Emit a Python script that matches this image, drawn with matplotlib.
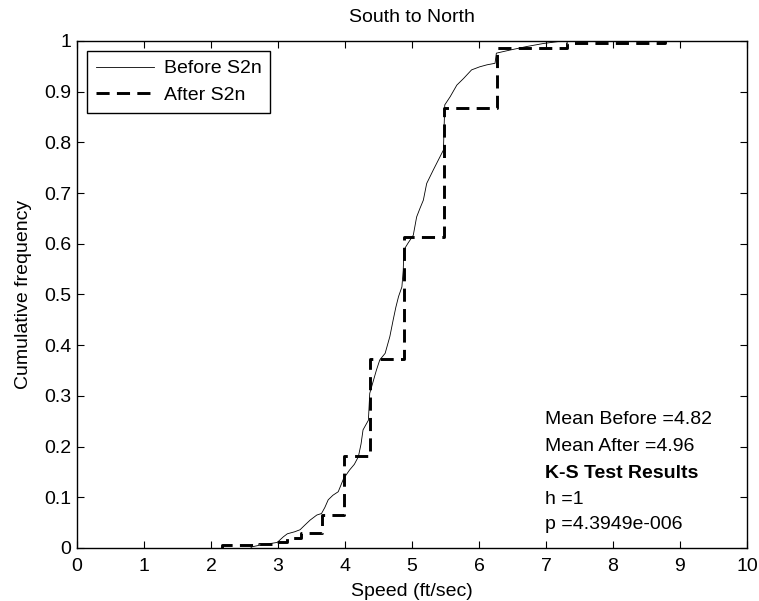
import numpy as np
import matplotlib
matplotlib.use("Agg")
import matplotlib.pyplot as plt

plt.rcParams['font.family'] = ['Liberation Sans', 'DejaVu Sans']

# empirical CDF, before S2n (speed in ft/sec, cumulative frequency)
before_x = [2.60, 2.71, 2.85, 2.99, 3.08, 3.14, 3.25, 3.33, 3.40, 3.48,
            3.58, 3.65, 3.70, 3.75, 3.82, 3.90, 3.98, 4.07, 4.14, 4.20,
            4.24, 4.27, 4.35, 4.37, 4.42, 4.47, 4.52, 4.60, 4.67, 4.72,
            4.76, 4.80, 4.85, 4.87, 4.88, 4.94, 5.02, 5.07, 5.12, 5.17,
            5.22, 5.32, 5.42, 5.47, 5.48, 5.49, 5.57, 5.67, 5.77, 5.89,
            6.01, 6.12, 6.24, 6.26, 6.46, 6.71, 6.96, 7.25]
before_y = [0.002, 0.005, 0.008, 0.011, 0.022, 0.028, 0.032, 0.036, 0.045, 0.055,
            0.065, 0.068, 0.080, 0.095, 0.104, 0.111, 0.137, 0.154, 0.165, 0.180,
            0.205, 0.233, 0.252, 0.305, 0.328, 0.351, 0.371, 0.384, 0.417, 0.450,
            0.475, 0.496, 0.515, 0.548, 0.588, 0.601, 0.617, 0.653, 0.670, 0.686,
            0.719, 0.746, 0.772, 0.785, 0.830, 0.874, 0.890, 0.913, 0.926, 0.943,
            0.949, 0.953, 0.956, 0.976, 0.982, 0.989, 0.995, 1.0]

# empirical CDF, after S2n
after_x = [2.17, 2.71, 2.99, 3.14, 3.35, 3.65, 3.99, 4.38, 4.88, 5.48, 6.27, 7.32, 8.78]
after_y = [0.005, 0.008, 0.011, 0.020, 0.029, 0.065, 0.181, 0.372, 0.614, 0.868, 0.987, 0.997, 1.0]

mean_before = 4.82
mean_after = 4.96
ks_h = 1
ks_p = '4.3949e-006'

fig = plt.figure(figsize=(7.59, 6.01), dpi=100)
ax = fig.add_axes([0.1014, 0.0882, 0.8827, 0.8436])

ax.plot([before_x[0]] + before_x, [0] + before_y,
        color='k', lw=0.6, label='Before S2n')
ax.step([after_x[0]] + after_x, [0] + after_y, where='post',
        color='k', lw=2.1, linestyle=(0, (4.5, 2.5)), label='After S2n')

ax.set_xlim(0, 10)
ax.set_ylim(0, 1)
ax.set_xticks(np.arange(0, 11, 1))
ax.set_yticks(np.arange(0, 1.01, 0.1))
ax.set_yticklabels(['0', '0.1', '0.2', '0.3', '0.4', '0.5', '0.6', '0.7', '0.8', '0.9', '1'])
ax.tick_params(direction='in', length=5, width=0.8, top=True, right=True,
               labelsize=14, pad=4)
ax.tick_params(axis='x', pad=7)
for s in ax.spines.values():
    s.set_linewidth(1.0)

ax.set_title('South to North', fontsize=14, pad=14)
ax.set_xlabel('Speed (ft/sec)', fontsize=14, labelpad=6)
ax.set_ylabel('Cumulative frequency', fontsize=14, labelpad=9)

leg = ax.legend(loc='upper left', bbox_to_anchor=(0.0149, 0.980), borderaxespad=0,
                fontsize=14, fancybox=False, framealpha=1, edgecolor='k',
                handlelength=3.0, handletextpad=0.5, labelspacing=0.45,
                borderpad=0.45)
leg.get_frame().set_linewidth(1.0)

tx = 6.985
ax.text(tx, 0.2525, 'Mean Before =%.2f' % mean_before, fontsize=14, va='center')
ax.text(tx, 0.1998, 'Mean After =%.2f' % mean_after, fontsize=14, va='center')
ax.text(tx, 0.147, 'K-S Test Results', fontsize=14, va='center', fontweight='bold')
ax.text(tx, 0.0947, 'h =%d' % ks_h, fontsize=14, va='center')
ax.text(tx, 0.047, 'p =' + ks_p, fontsize=14, va='center')

fig.savefig('out.png', dpi=100)
